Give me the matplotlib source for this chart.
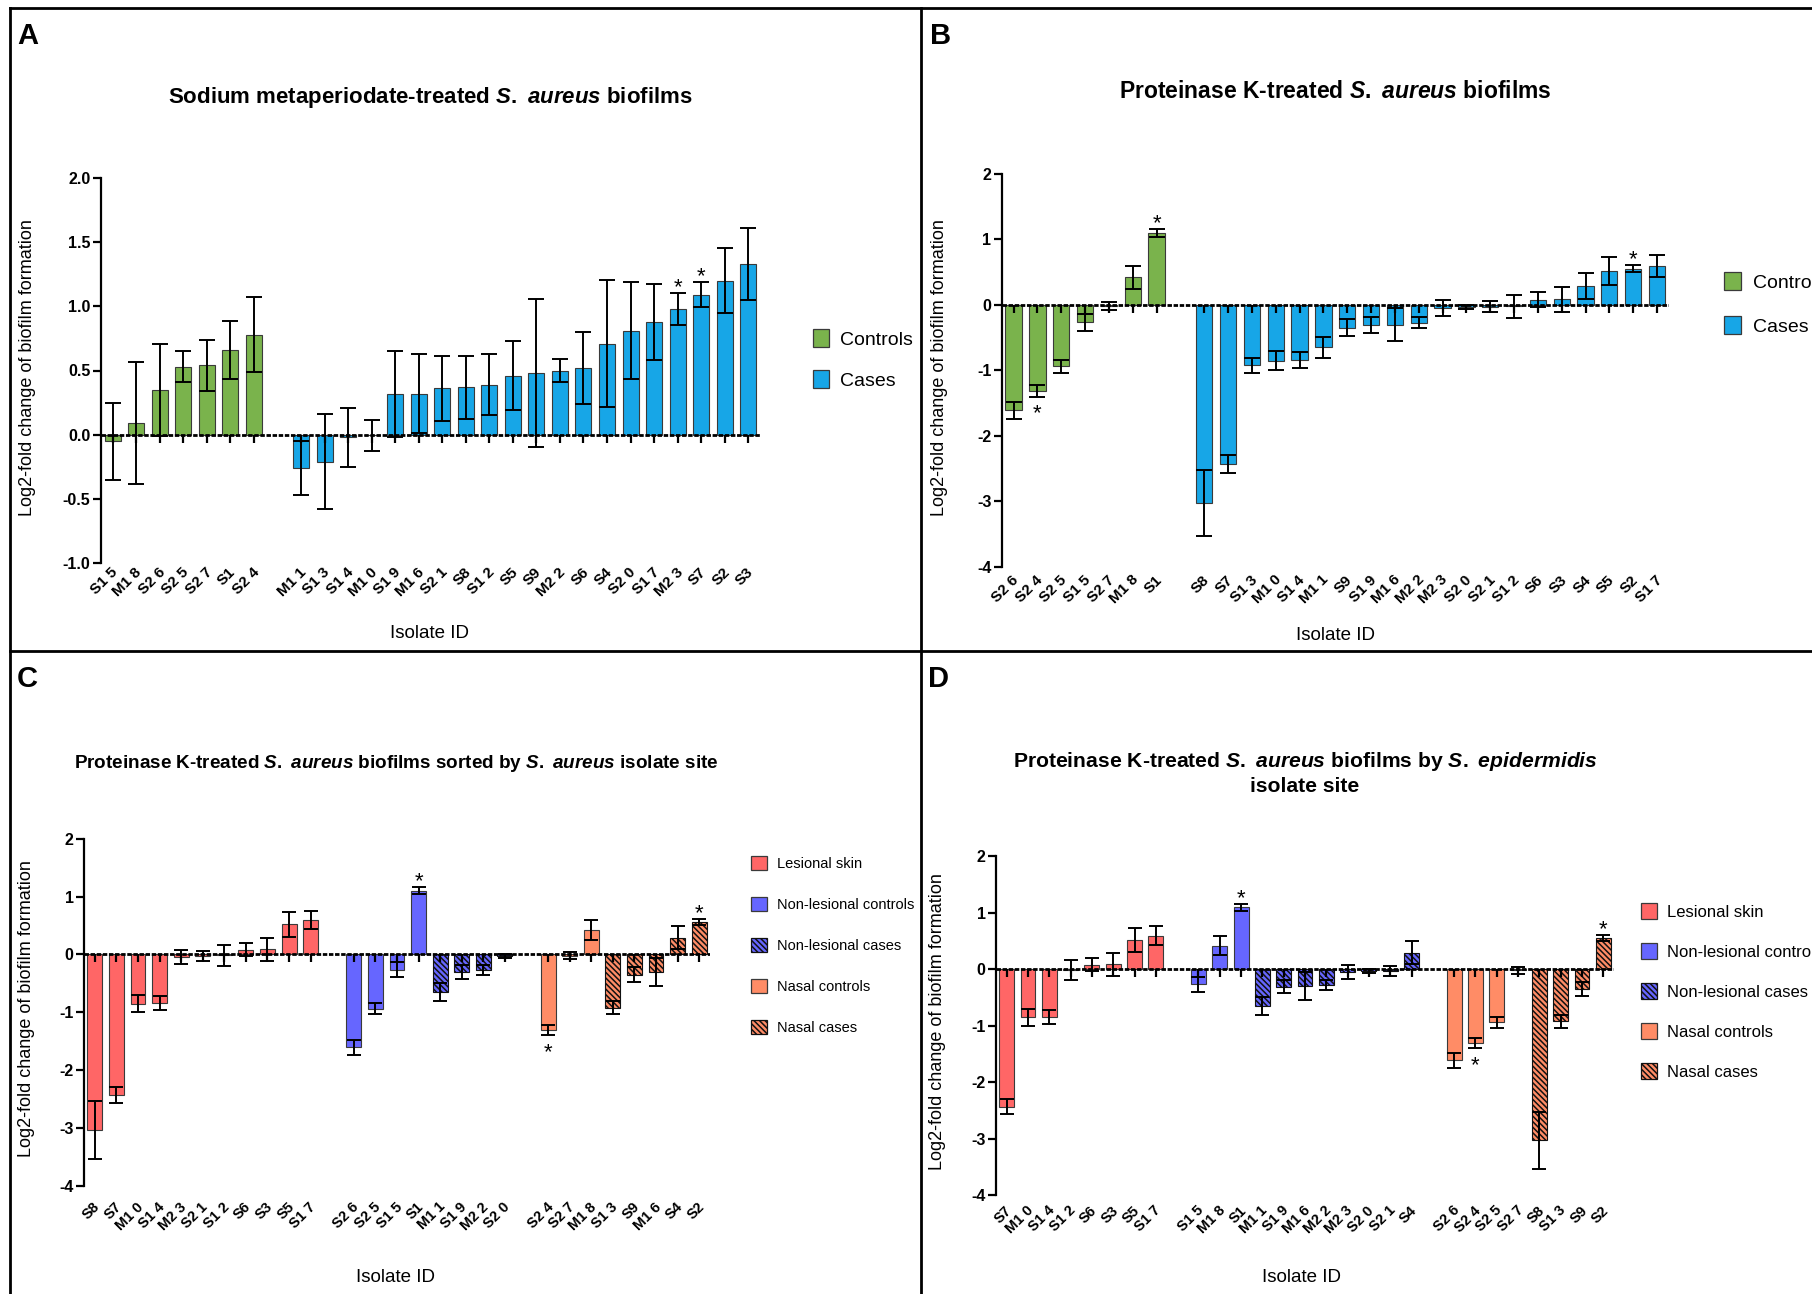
import matplotlib
matplotlib.use("Agg")
import matplotlib.pyplot as plt
from matplotlib.patches import Rectangle
from matplotlib.lines import Line2D
from matplotlib.transforms import offset_copy

plt.rcParams.update({
    "font.family": ["Liberation Sans", "DejaVu Sans"],
    "axes.unicode_minus": False,
    "mathtext.fontset": "custom",
    "mathtext.rm": "Liberation Sans:bold",
    "mathtext.it": "Liberation Sans:italic:bold",
    "mathtext.bf": "Liberation Sans:bold",
    "hatch.linewidth": 1.1,
})

# ---------------- data ----------------
# Panel A: sodium metaperiodate treatment
a_ctrl_ids = ["S1 5", "M1 8", "S2 6", "S2 5", "S2 7", "S1", "S2 4"]
a_ctrl_mean = [-0.05, 0.09, 0.35, 0.53, 0.54, 0.66, 0.78]
a_ctrl_err = [0.30, 0.475, 0.36, 0.123, 0.20, 0.225, 0.29]
a_case_ids = ["M1 1", "S1 3", "S1 4", "M1 0", "S1 9", "M1 6", "S2 1", "S8", "S1 2", "S5",
              "S9", "M2 2", "S6", "S4", "S2 0", "S1 7", "M2 3", "S7", "S2", "S3"]
a_case_mean = [-0.26, -0.21, -0.02, -0.005, 0.32, 0.32, 0.36, 0.37, 0.39, 0.46,
               0.48, 0.50, 0.52, 0.71, 0.81, 0.88, 0.98, 1.09, 1.20, 1.33]
a_case_err = [0.21, 0.37, 0.23, 0.12, 0.335, 0.31, 0.25, 0.245, 0.235, 0.27,
              0.575, 0.09, 0.28, 0.495, 0.38, 0.295, 0.125, 0.095, 0.25, 0.28]
a_starred = ["M2 3", "S7"]

# Panel B: proteinase K treatment
b_ctrl_ids = ["S2 6", "S2 4", "S2 5", "S1 5", "S2 7", "M1 8", "S1"]
b_ctrl_mean = [-1.61, -1.31, -0.94, -0.265, -0.02, 0.42, 1.10]
b_ctrl_err = [0.13, 0.09, 0.095, 0.13, 0.058, 0.17, 0.06]
b_case_ids = ["S8", "S7", "S1 3", "M1 0", "S1 4", "M1 1", "S9", "S1 9", "M1 6", "M2 2",
              "M2 3", "S2 0", "S2 1", "S1 2", "S6", "S3", "S4", "S5", "S2", "S1 7"]
b_case_mean = [-3.03, -2.43, -0.92, -0.85, -0.84, -0.65, -0.35, -0.305, -0.30, -0.275,
               -0.045, -0.035, -0.03, -0.018, 0.08, 0.085, 0.29, 0.52, 0.555, 0.595]
b_case_err = [0.50, 0.135, 0.115, 0.145, 0.12, 0.16, 0.128, 0.12, 0.245, 0.085,
              0.125, 0.035, 0.085, 0.176, 0.115, 0.195, 0.205, 0.215, 0.055, 0.163]
pk_starred = ["S2 4", "S1", "S2"]

# Panel C: proteinase K results grouped by S. aureus isolate site
c_lesional = ["S8", "S7", "M1 0", "S1 4", "M2 3", "S2 1", "S1 2", "S6", "S3", "S5", "S1 7"]
c_nonles_ctrl = ["S2 6", "S2 5", "S1 5", "S1"]
c_nonles_case = ["M1 1", "S1 9", "M2 2", "S2 0"]
c_nasal_ctrl = ["S2 4", "S2 7", "M1 8"]
c_nasal_case = ["S1 3", "S9", "M1 6", "S4", "S2"]

# Panel D: proteinase K results grouped by S. epidermidis isolate site
d_lesional = ["S7", "M1 0", "S1 4", "S1 2", "S6", "S3", "S5", "S1 7"]
d_nonles_ctrl = ["S1 5", "M1 8", "S1"]
d_nonles_case = ["M1 1", "S1 9", "M1 6", "M2 2", "M2 3", "S2 0", "S2 1", "S4"]
d_nasal_ctrl = ["S2 6", "S2 4", "S2 5", "S2 7"]
d_nasal_case = ["S8", "S1 3", "S9", "S2"]

site_names = ["Lesional skin", "Non-lesional controls", "Non-lesional cases",
              "Nasal controls", "Nasal cases"]

# ---------------- styles ----------------
GREEN = "#7AB34C"
CYAN = "#17A6E7"
RED = "#FF6666"
BLUE = "#6666FF"
ORANGE = "#FF8C66"
HATCH = "\\\\\\\\\\\\"
site_styles = [(RED, None), (BLUE, None), (BLUE, HATCH), (ORANGE, None), (ORANGE, HATCH)]

pk_mean = dict(zip(b_ctrl_ids + b_case_ids, b_ctrl_mean + b_case_mean))
pk_err = dict(zip(b_ctrl_ids + b_case_ids, b_ctrl_err + b_case_err))

W, H = 1812, 1294
DPI = 100
fig = plt.figure(figsize=(W / DPI, H / DPI), dpi=DPI)


def fx(x):
    return x / W


def fy(y):
    return 1 - y / H


def draw_panel(rect, groups, gap_after, ylim, yticks, yfmt, starred,
               label_gap, bar_w, cap, lbl_size):
    left, top, right, bottom = rect
    ax = fig.add_axes([fx(left), fy(bottom), (right - left) / W, (bottom - top) / H])
    px_per_unit = (bottom - top) / (ylim[1] - ylim[0])
    pos = 0
    xs_all = []
    lbl_trans = offset_copy(ax.get_xaxis_transform(), fig=fig, x=3, y=-label_gap, units="dots")
    for gi, (ids, means, errs, face, hatch) in enumerate(groups):
        xs = list(range(pos, pos + len(ids)))
        ec = "#111111" if hatch else "#3a3a3a"
        ax.bar(xs, means, width=bar_w, color=face, edgecolor=ec, hatch=hatch,
               linewidth=0.8, zorder=2)
        ax.errorbar(xs, means, yerr=errs, fmt="none", ecolor="black", elinewidth=1.4,
                    capsize=cap, capthick=1.4, zorder=5)
        for x, i, m, e in zip(xs, ids, means, errs):
            ax.text(x, 0, i, transform=lbl_trans, rotation=45, rotation_mode="anchor",
                    ha="right", va="center", fontsize=lbl_size, fontweight="bold")
            if i in starred:
                if m >= 0:
                    st = offset_copy(ax.transData, fig=fig, x=0, y=0, units="dots")
                    ax.text(x, m + e, "*", transform=st, ha="center", va="baseline",
                            fontsize=16, clip_on=False)
                else:
                    st = offset_copy(ax.transData, fig=fig, x=0, y=-23, units="dots")
                    ax.text(x, m - e, "*", transform=st, ha="center", va="baseline",
                            fontsize=16, clip_on=False)
        xs_all += xs
        pos += len(ids)
        if gi in gap_after:
            pos += 1
    ax.set_xlim(-0.5, pos - 0.5)
    ax.set_ylim(*ylim)
    # x axis drawn at zero with downward ticks
    ax.axhline(0, color="black", lw=2.0, linestyle=(0, (1.6, 0.6)), zorder=4)
    tick_len = 8 / px_per_unit
    ax.vlines(xs_all, -tick_len, 0, color="black", lw=1.6, zorder=4)
    for s in ("top", "right", "bottom"):
        ax.spines[s].set_visible(False)
    ax.spines["left"].set_linewidth(1.6)
    ax.set_xticks([])
    ax.set_yticks(yticks, labels=[yfmt % v for v in yticks], fontweight="bold", fontsize=11.5)
    ax.tick_params(axis="y", direction="out", length=5.5, width=1.6, pad=2)
    ax.patch.set_alpha(0)
    return ax


def legend(x_sq, w, h, centers, items, text_x, fontsize):
    em = fontsize * DPI / 72
    for yc, (label, face, hatch) in zip(centers, items):
        ec = "#111111" if hatch else "#3a3a3a"
        fig.add_artist(Rectangle((fx(x_sq), fy(yc + h / 2)), w / W, h / H,
                                 transform=fig.transFigure, facecolor=face,
                                 edgecolor=ec, hatch=hatch, lw=0.9))
        fig.text(fx(text_x), fy(yc + 0.358 * em), label, fontsize=fontsize,
                 ha="left", va="baseline")


def site_groups(lists):
    out = []
    for ids, (face, hatch) in zip(lists, site_styles):
        out.append((ids, [pk_mean[i] for i in ids], [pk_err[i] for i in ids], face, hatch))
    return out


# ---------------- panel A ----------------
draw_panel((101, 177.7, 760, 563.3),
           [(a_ctrl_ids, a_ctrl_mean, a_ctrl_err, GREEN, None),
            (a_case_ids, a_case_mean, a_case_err, CYAN, None)],
           gap_after=[0], ylim=(-1.0, 2.0), yticks=[-1.0, -0.5, 0.0, 0.5, 1.0, 1.5, 2.0],
           yfmt="%.1f", starred=a_starred, label_gap=7, bar_w=0.68, cap=5.8, lbl_size=11)
fig.text(fx(430), fy(98), r"Sodium metaperiodate-treated $\mathit{S.\ aureus}$ biofilms",
         ha="center", va="center", fontsize=16, fontweight="bold")
legend(813, 16, 18, [338, 379], [("Controls", GREEN, None), ("Cases", CYAN, None)], 840, 14)

# ---------------- panel B ----------------
draw_panel((1001.7, 174, 1668.9, 566.7),
           [(b_ctrl_ids, b_ctrl_mean, b_ctrl_err, GREEN, None),
            (b_case_ids, b_case_mean, b_case_err, CYAN, None)],
           gap_after=[0], ylim=(-4, 2), yticks=[-4, -3, -2, -1, 0, 1, 2],
           yfmt="%d", starred=pk_starred, label_gap=11, bar_w=0.685, cap=5.8, lbl_size=11)
fig.text(fx(1335), fy(91), r"Proteinase K-treated $\mathit{S.\ aureus}$ biofilms",
         ha="center", va="center", fontsize=16.5, fontweight="bold")
legend(1724, 17, 18, [281, 325], [("Controls", GREEN, None), ("Cases", CYAN, None)], 1753, 14)

# ---------------- panel C ----------------
draw_panel((84, 838.7, 710, 1185.7),
           site_groups([c_lesional, c_nonles_ctrl, c_nonles_case, c_nasal_ctrl, c_nasal_case]),
           gap_after=[0, 2], ylim=(-4, 2), yticks=[-4, -3, -2, -1, 0, 1, 2],
           yfmt="%d", starred=pk_starred, label_gap=19, bar_w=0.69, cap=5.2, lbl_size=10.5)
fig.text(fx(396), fy(763),
         r"Proteinase K-treated $\mathit{S.\ aureus}$ biofilms sorted by $\mathit{S.\ aureus}$ isolate site",
         ha="center", va="center", fontsize=13.6, fontweight="bold")
legend(751, 16, 14, [863, 904, 945, 986, 1027],
       [(n, f, h) for n, (f, h) in zip(site_names, site_styles)], 777, 10.5)

# ---------------- panel D ----------------
draw_panel((996, 856.3, 1614, 1195.3),
           site_groups([d_lesional, d_nonles_ctrl, d_nonles_case, d_nasal_ctrl, d_nasal_case]),
           gap_after=[0, 2], ylim=(-4, 2), yticks=[-4, -3, -2, -1, 0, 1, 2],
           yfmt="%d", starred=pk_starred, label_gap=13, bar_w=0.70, cap=5.2, lbl_size=10.5)
fig.text(fx(1305), fy(773),
         "Proteinase K-treated $\\mathit{S.\\ aureus}$ biofilms by $\\mathit{S.\\ epidermidis}$\nisolate site",
         ha="center", va="center", fontsize=15.2, fontweight="bold", linespacing=1.3)
legend(1641, 16, 16, [911, 951, 991, 1031, 1071],
       [(n, f, h) for n, (f, h) in zip(site_names, site_styles)], 1667, 12)

# ---------------- shared axis titles ----------------
ylab = "Log2-fold change of biofilm formation"
for x, y in [(28, 368), (939, 368), (27, 1009), (937, 1022)]:
    fig.text(fx(x), fy(y), ylab, rotation=90, ha="center", va="center", fontsize=13)
for x, y in [(430, 634), (1335, 636), (395, 1277), (1302, 1277)]:
    fig.text(fx(x), fy(y), "Isolate ID", ha="center", va="center", fontsize=13.5)

# ---------------- panel letters ----------------
for s, x, y in [("A", 17, 44), ("B", 930, 44), ("C", 17, 687), ("D", 928, 687)]:
    fig.text(fx(x), fy(y), s, ha="left", va="baseline", fontsize=21, fontweight="bold")

# ---------------- panel frame ----------------
frame = [((10, 10), (8, H)), ((10, W), (8, 8)), ((921, 921), (8, H)), ((10, W), (651, 651))]
for xs, ys in frame:
    fig.add_artist(Line2D([fx(v) for v in xs], [fy(v) for v in ys], transform=fig.transFigure,
                          color="black", lw=2.0, solid_capstyle="projecting"))

fig.savefig("out.png", dpi=DPI, facecolor="white")
